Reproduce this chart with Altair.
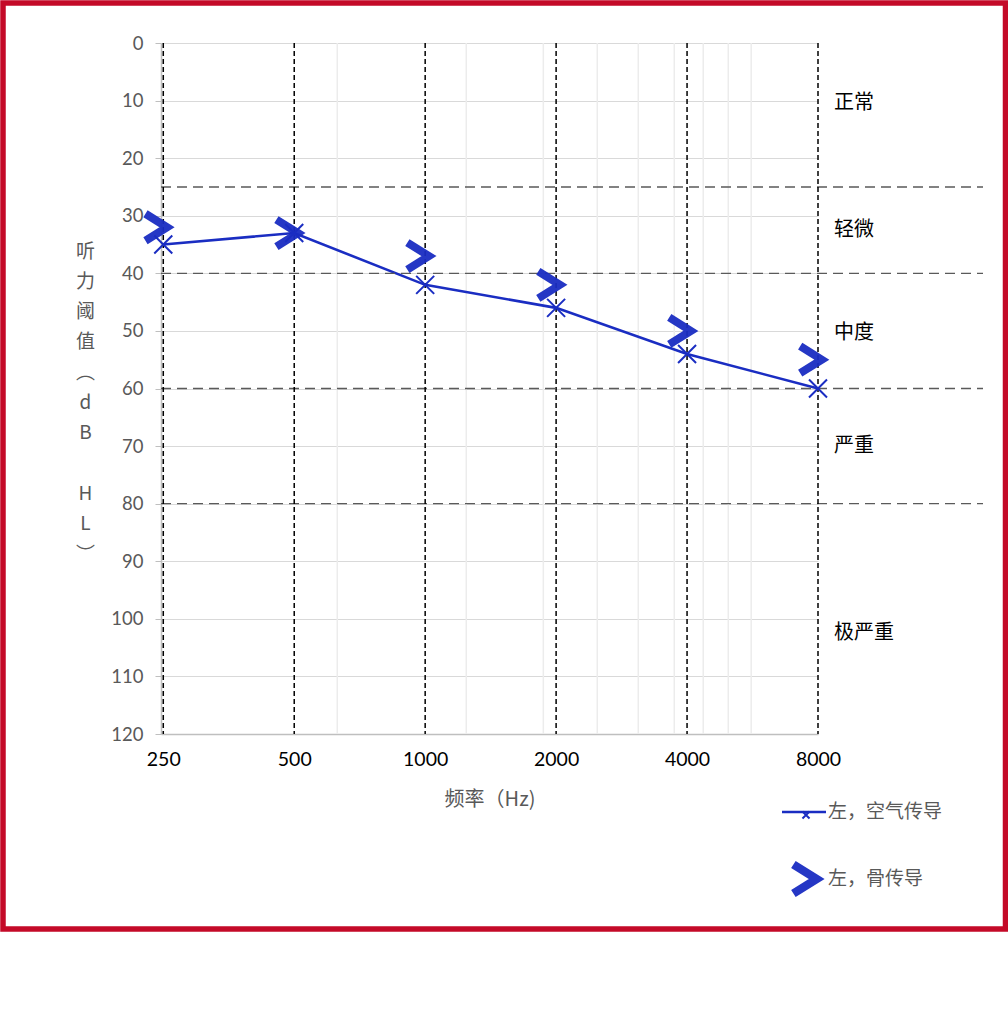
import altair as alt
import pandas as pd

# ---------------- data ----------------
freqs = [250, 500, 1000, 2000, 4000, 8000]
air_db = [35, 33, 42, 46, 54, 60]          # 左，空气传导
bone_db = [32, 33, 37, 42, 50, 55]         # 左，骨传导
y_ticks = [0, 10, 20, 30, 40, 50, 60, 70, 80, 90, 100, 110, 120]
minor_grid_freqs = [628, 1243, 1869, 2487, 3090, 3738, 4358, 4975, 5617]
degree_bounds = [25, 40, 60, 80]
degree_labels = ["正常", "轻微", "中度", "严重", "极严重"]
degree_label_db = [10.5, 32.5, 50.3, 70, 102.5]
legend_labels = ["左，空气传导", "左，骨传导"]
y_title_lines = ["听", "力", "阈", "值", "︵", "d", "B", "\u2800", "H", "L", "︶"]

# ---------------- styles ----------------
BLUE = "#1a2dc2"
GRAY_TXT = "#595959"
W, H = 657, 691
FONT_NUM = "Lato, Noto Sans CJK SC, sans-serif"
FONT_CJK = "Noto Sans CJK SC, DejaVu Sans, sans-serif"
X_SHAPE = "M-1,-1L1,1M-1,1L1,-1"
GT_SHAPE = "M-0.8,-1L0.8,0L-0.8,1"

air_df = pd.DataFrame({"freq": freqs, "db": air_db})
bone_df = pd.DataFrame({"freq": freqs, "db": bone_db})
grid_df = pd.DataFrame({"freq": minor_grid_freqs})
vline_df = pd.DataFrame({"freq": freqs})
bound_df = pd.DataFrame({"db": degree_bounds})
deg_df = pd.DataFrame({"label": degree_labels, "db": degree_label_db})

xscale = alt.Scale(type="log", domain=[247, 8000], nice=False)
yscale = alt.Scale(domain=[0, 120], reverse=True, nice=False, zero=False)

x_axis = alt.Axis(
    values=freqs, labelExpr="datum.value", grid=False, ticks=False,
    domainColor="#bfbfbf", domainWidth=1.5,
    labelColor="black", labelFontSize=19.5, labelFont=FONT_NUM, labelPadding=16,
    labelFlush=False, labelOverlap=False,
    title="频率（Hz)", titleColor=GRAY_TXT, titleFontSize=20, titleFont=FONT_CJK,
    titleFontWeight="normal", titleY=65, titleBaseline="middle",
)
y_axis = alt.Axis(
    values=y_ticks, grid=True, gridColor="#d9d9d9", gridWidth=1.2,
    tickSize=6, tickColor="#bfbfbf", domainColor="#bfbfbf", domainWidth=1.5,
    labelColor=GRAY_TXT, labelFontSize=18.5, labelFont=FONT_NUM, labelPadding=12,
    title=y_title_lines,
    titleAngle=0, titleAlign="center", titleBaseline="top", titleX=-76, titleY=199,
    titleLineHeight=30.3, titleColor=GRAY_TXT, titleFontSize=19, titleFont=FONT_CJK,
    titleFontWeight="normal",
)

# minor vertical gridlines
vgrid = alt.Chart(grid_df).mark_rule(color="#ececec", strokeWidth=1.5).encode(
    x=alt.X("freq:Q", scale=xscale, axis=x_axis)
)

# base layer carrying the y axis (air conduction line)
line = alt.Chart(air_df).mark_line(color=BLUE, strokeWidth=2.6).encode(
    x=alt.X("freq:Q", scale=xscale, axis=x_axis),
    y=alt.Y("db:Q", scale=yscale, axis=y_axis),
)

# horizontal dashed degree boundaries (extend to the right labels)
bounds = alt.Chart(bound_df).mark_rule(
    color="#5a5a5a", strokeWidth=1.4, strokeDash=[10, 6]
).encode(y=alt.Y("db:Q", scale=yscale), x=alt.value(0), x2=alt.value(822))

# vertical dashed frequency lines
vlines = alt.Chart(vline_df).mark_rule(
    color="black", strokeWidth=1.5, strokeDash=[5, 3]
).encode(x=alt.X("freq:Q", scale=xscale))

air_pts = alt.Chart(air_df).mark_point(
    shape=X_SHAPE, size=324, filled=False, color=BLUE, strokeWidth=2, opacity=1
).encode(x=alt.X("freq:Q", scale=xscale), y=alt.Y("db:Q", scale=yscale))

bone_pts = alt.Chart(bone_df).mark_point(
    shape=GT_SHAPE, size=729, filled=False, color=BLUE, strokeWidth=8,
    opacity=0.95, xOffset=-7, strokeJoin="miter"
).encode(x=alt.X("freq:Q", scale=xscale), y=alt.Y("db:Q", scale=yscale))

deg_text = alt.Chart(deg_df).mark_text(
    align="left", baseline="middle", fontSize=20, font=FONT_CJK, color="black"
).encode(y=alt.Y("db:Q", scale=yscale), x=alt.value(673), text="label:N")

# manual legend
leg_line = alt.Chart(pd.DataFrame({"a": [0]})).mark_rule(
    color=BLUE, strokeWidth=2.6
).encode(x=alt.value(621), x2=alt.value(665), y=alt.value(769))
leg_x = alt.Chart(pd.DataFrame({"a": [0]})).mark_point(
    shape=X_SHAPE, size=50, filled=False, color=BLUE, strokeWidth=2, opacity=1
).encode(x=alt.value(645), y=alt.value(772))
leg_gt = alt.Chart(pd.DataFrame({"a": [0]})).mark_point(
    shape=GT_SHAPE, size=841, filled=False, color=BLUE, strokeWidth=8.5, opacity=0.95
).encode(x=alt.value(644), y=alt.value(836))
leg_text = alt.Chart(pd.DataFrame({"t": legend_labels, "yy": [769, 836]})).mark_text(
    align="left", baseline="middle", fontSize=19, font=FONT_CJK, color=GRAY_TXT
).encode(x=alt.value(667), y=alt.Y("yy:Q", scale=None), text="t:N")

# red frame
frame = alt.Chart(pd.DataFrame({"a": [0]})).mark_rect(
    fillOpacity=0, stroke="#c40a28", strokeWidth=5.5
).encode(x=alt.value(-158), x2=alt.value(844.5), y=alt.value(-40), y2=alt.value(886))

chart = alt.layer(
    vgrid, line, bounds, vlines, air_pts, bone_pts, deg_text,
    leg_line, leg_x, leg_gt, leg_text, frame
).properties(
    width=W, height=H,
    autosize=alt.AutoSizeParams(type="none"),
    padding={"left": 161, "top": 43, "right": 190, "bottom": 297},
    background="white",
).configure_view(strokeWidth=0)

chart.save("out.html", embed_options={"renderer": "svg", "actions": False})
